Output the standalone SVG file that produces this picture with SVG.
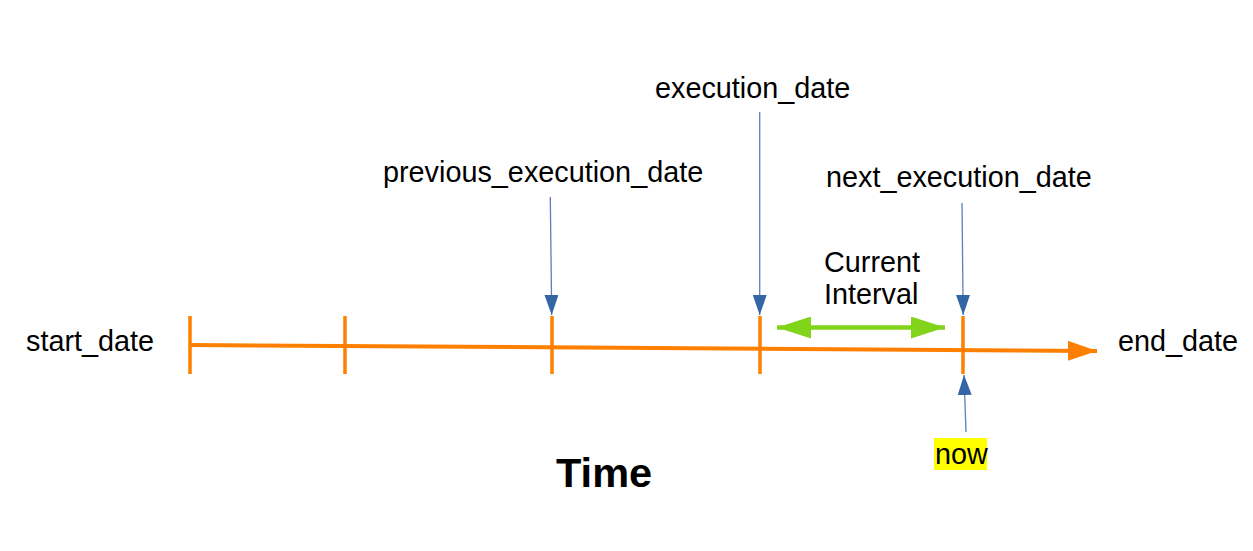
<svg xmlns="http://www.w3.org/2000/svg" width="1253" height="551" viewBox="0 0 1253 551">
<defs>
<style>
.t{font-family:"Liberation Sans",Arial,sans-serif;font-size:28.8px;fill:#000}
.tick{stroke:#ff8000;stroke-width:3.5;fill:none}
.ptr{stroke:#5a82b8;stroke-width:1.3;fill:none}
</style>
<marker id="blueHead" viewBox="0 0 20 14" refX="20" refY="7" markerWidth="20" markerHeight="14" markerUnits="userSpaceOnUse" orient="auto">
<path d="M0,0 L20,7 L0,14 Z" fill="#3465a4"/>
</marker>
<marker id="orangeHead" viewBox="0 0 29 20" refX="29" refY="10" markerWidth="29" markerHeight="20" markerUnits="userSpaceOnUse" orient="auto">
<path d="M0,0 L29,10 L0,20 Z" fill="#ff8000"/>
</marker>
<marker id="greenHead" viewBox="0 0 34 22" refX="34" refY="11" markerWidth="34" markerHeight="22" markerUnits="userSpaceOnUse" orient="auto-start-reverse">
<path d="M0,0 L34,11 L0,22 Z" fill="#81d41a"/>
</marker>
</defs>
<rect width="1253" height="551" fill="#fff"/>
<g id="connectors">
<line id="timeline" x1="190" y1="345" x2="1097" y2="351" stroke="#ff8000" stroke-width="4" marker-end="url(#orangeHead)"/>
<line class="tick" x1="190" y1="316" x2="190" y2="374"/>
<line class="tick" x1="345" y1="316" x2="345" y2="374"/>
<line class="tick" x1="552" y1="316" x2="552" y2="374"/>
<line class="tick" x1="760" y1="316" x2="760" y2="374"/>
<line class="tick" x1="963" y1="316" x2="963" y2="374"/>
<line id="interval" x1="777" y1="327.5" x2="945" y2="327.5" stroke="#81d41a" stroke-width="4.5" marker-start="url(#greenHead)" marker-end="url(#greenHead)"/>
<line class="ptr" x1="550.3" y1="197" x2="551.7" y2="315" marker-end="url(#blueHead)"/>
<line class="ptr" x1="759.7" y1="112" x2="759.7" y2="315" marker-end="url(#blueHead)"/>
<line class="ptr" x1="962" y1="203" x2="963.2" y2="315" marker-end="url(#blueHead)"/>
<line class="ptr" x1="966" y1="432" x2="964" y2="375" marker-end="url(#blueHead)"/>
</g>
<g id="start_date"><text class="t" x="26" y="351">start_date</text></g>
<g id="end_date"><text class="t" x="1118" y="351">end_date</text></g>
<g id="execution_date"><text class="t" x="655" y="98">execution_date</text></g>
<g id="previous_execution_date"><text class="t" x="383" y="182">previous_execution_date</text></g>
<g id="next_execution_date"><text class="t" x="826" y="187">next_execution_date</text></g>
<g id="current_interval"><text class="t" x="824" y="272">Current</text><text class="t" x="824" y="304">Interval</text></g>
<g id="now"><rect x="934" y="438" width="53" height="32" fill="#ffff00"/><text class="t" x="935" y="464">now</text></g>
<g id="time"><text x="556" y="487" font-family="'Liberation Sans',Arial,sans-serif" font-size="41.5" font-weight="bold" fill="#000">Time</text></g>
</svg>
